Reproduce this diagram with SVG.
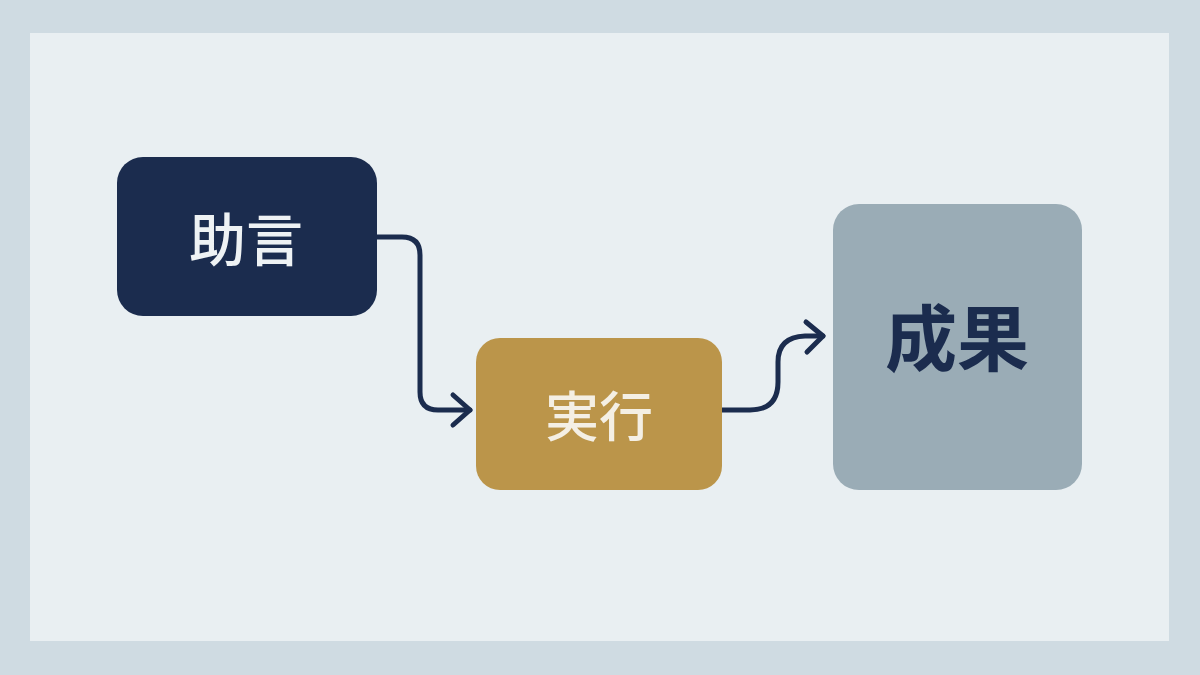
<svg xmlns="http://www.w3.org/2000/svg" width="1200" height="675" viewBox="0 0 1200 675">
<style>
.lbl{font-family:"Noto Sans CJK JP","Noto Sans CJK SC",sans-serif;text-anchor:middle;dominant-baseline:central}
.con{fill:none;stroke:#1b2c4e;stroke-width:5;stroke-linecap:round;stroke-linejoin:round}
</style>
<rect x="0" y="0" width="1200" height="675" fill="#cfdbe2"/>
<rect x="30" y="33" width="1139" height="608" fill="#e9eff2"/>
<g id="connectors">
<path class="con" d="M377,237 L402,237 Q420,237 420,255 L420,392 Q420,410 438,410 L470,410"/>
<path class="con" d="M453,395 L470,410 L453,425"/>
<path class="con" d="M722,410 L750,410 Q778,410 778,382 L778,362 Q778,337 805,336 L823,336"/>
<path class="con" d="M806,322 L823,336 L807,352"/>
</g>
<g id="node-advice">
<rect x="117" y="157" width="260" height="159" rx="26" fill="#1b2c4e"/>
<text class="lbl" x="246" y="236" font-size="57" font-weight="500" fill="#eef2f4">助言</text>
</g>
<g id="node-execution">
<rect x="476" y="338" width="246" height="152" rx="24" fill="#bb954a"/>
<text class="lbl" x="599" y="413" font-size="54" font-weight="500" fill="#f4efe4">実行</text>
</g>
<g id="node-result">
<rect x="833" y="204" width="249" height="286" rx="26" fill="#9aacb6"/>
<text class="lbl" x="957" y="333" font-size="72" font-weight="bold" fill="#1b2c4e">成果</text>
</g>
</svg>
